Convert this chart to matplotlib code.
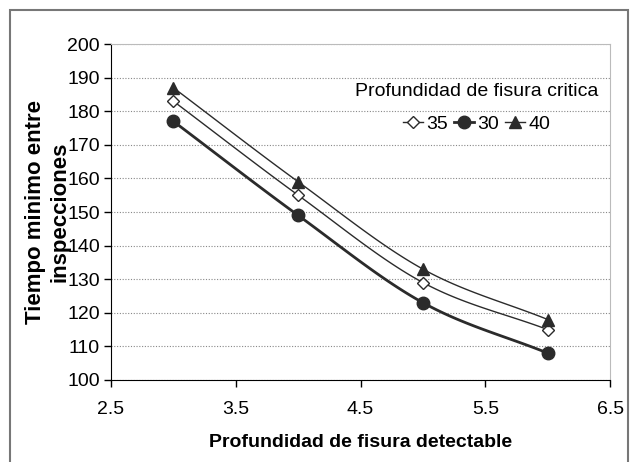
import numpy as np
import matplotlib.pyplot as plt
from matplotlib.patches import Rectangle

plt.rcParams['font.family'] = ['Liberation Sans', 'DejaVu Sans']

prof_detectable = [3, 4, 5, 6]
t_35 = [183, 155, 129, 115]
t_30 = [177, 149, 123, 108]
t_40 = [187, 159, 133, 118]


def smooth(x, y, n=30):
    # Catmull-Rom curve through the points (Excel-style smoothed line)
    x = np.asarray(x, float)
    y = np.asarray(y, float)
    px = np.concatenate(([2 * x[0] - x[1]], x, [2 * x[-1] - x[-2]]))
    py = np.concatenate(([2 * y[0] - y[1]], y, [2 * y[-1] - y[-2]]))
    xs, ys = [], []
    for i in range(1, len(px) - 2):
        t = np.linspace(0, 1, n)
        for p, out in ((px, xs), (py, ys)):
            p0, p1, p2, p3 = p[i - 1], p[i], p[i + 1], p[i + 2]
            out.extend(0.5 * ((2 * p1) + (-p0 + p2) * t
                              + (2 * p0 - 5 * p1 + 4 * p2 - p3) * t ** 2
                              + (-p0 + 3 * p1 - 3 * p2 + p3) * t ** 3))
    return np.array(xs), np.array(ys)


fig = plt.figure(figsize=(6.31, 4.62), dpi=100)
ax = fig.add_axes([0.176, 0.1775, 0.791, 0.727])

dark = '#2b2b2b'
series = [
    ('35', t_35, 'D', 'white', 1.0, 6),
    ('30', t_30, 'o', dark, 2.0, 9),
    ('40', t_40, '^', dark, 1.0, 8),
]
handles = []
for lab, vals, mk, fc, lw, ms in series:
    sx, sy = smooth(prof_detectable, vals)
    ax.plot(sx, sy, color=dark, lw=lw, zorder=2)
    ax.plot(prof_detectable, vals, ls='none', marker=mk, ms=ms, mfc=fc,
            mec=dark, mew=1.0, zorder=3)
    h, = ax.plot([], [], color=dark, lw=lw, marker=mk, ms=ms, mfc=fc,
                 mec=dark, mew=1.0, label=lab)
    handles.append(h)

ax.set_xlim(2.5, 6.5)
ax.set_ylim(100, 200)
ax.set_xticks([2.5, 3.5, 4.5, 5.5, 6.5])
ax.set_xticklabels(['2.5', '3.5', '4.5', '5.5', '6.5'])
ax.set_yticks(np.arange(100, 201, 10))
ax.tick_params(direction='out', length=5, width=1, labelsize=14, colors='black')
ax.tick_params(axis='x', pad=10)
ax.tick_params(axis='y', pad=3)
ax.yaxis.grid(True, ls=(0, (1, 1.5)), color='#888888', lw=0.8)
ax.set_axisbelow(True)
for s in ('top', 'right'):
    ax.spines[s].set_color('#bbbbbb')
for s in ('left', 'bottom'):
    ax.spines[s].set_color('black')

ax.set_xlabel('Profundidad de fisura detectable', fontsize=14, fontweight='bold',
              labelpad=12)
ax.set_ylabel('Tiempo minimo entre\ninspecciones', fontsize=16, fontweight='bold',
              linespacing=1.2)
ax.yaxis.set_label_coords(-0.082, 0.5)

leg = ax.legend(handles=handles, title='Profundidad de fisura critica', ncol=3,
                frameon=False, loc='upper right', bbox_to_anchor=(1.0, 0.92),
                fontsize=14, title_fontsize=14, handlelength=1.0,
                handletextpad=0.2, columnspacing=0.3, borderaxespad=0.2)
leg._legend_box.sep = 11

fig.patches.append(Rectangle((0.016, -0.01), 0.98, 0.988, transform=fig.transFigure,
                             fill=False, edgecolor='#777777', lw=1.5))

fig.savefig('out.png', dpi=100)
